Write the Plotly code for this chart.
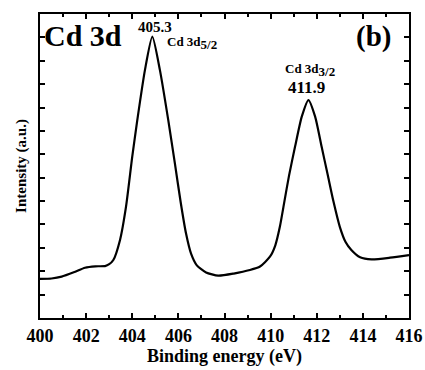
import plotly.graph_objects as go

# Binding energy (eV) and intensity (a.u.)
energy = [400.0, 400.5, 400.94, 401.5, 401.95, 402.4, 402.82, 403.0, 403.18, 403.47, 403.73,
          404.0, 404.22, 404.55, 404.87, 405.2, 405.56, 405.85, 406.1, 406.33, 406.55, 406.8,
          407.2, 407.73, 408.4, 409.1, 409.54, 409.97, 410.2, 410.4, 410.6, 410.8, 411.06, 411.35,
          411.64, 411.93, 412.21, 412.48, 412.72, 413.0, 413.25, 413.5, 413.88, 414.38, 415.18, 416.0]
intensity = [1.67, 1.69, 1.77, 1.97, 2.15, 2.21, 2.22, 2.3, 2.48, 3.34, 4.76,
             6.9, 8.47, 10.6, 12.03, 10.6, 8.47, 6.6, 4.95, 3.62, 2.75, 2.25,
             1.95, 1.81, 1.9, 2.05, 2.2, 2.62, 3.1, 3.9, 5.0, 6.1, 7.33, 8.61,
             9.32, 8.61, 7.33, 6.1, 5.0, 3.9, 3.25, 2.91, 2.6, 2.51, 2.58, 2.69]

x_ticks = [400, 402, 404, 406, 408, 410, 412, 414, 416]

FONT = "Liberation Serif, Times New Roman, serif"

fig = go.Figure()
fig.add_trace(go.Scatter(x=energy, y=intensity, mode="lines",
                         line=dict(color="black", width=2.2, shape="spline", smoothing=0.6),
                         showlegend=False, hoverinfo="skip"))

axis_common = dict(showline=True, linecolor="black", linewidth=2, mirror="allticks",
                   ticks="inside", tickcolor="black", tickwidth=1.5, ticklen=5,
                   showgrid=False, zeroline=False, automargin=False)

fig.update_xaxes(range=[400, 416], tickvals=x_ticks, ticktext=[str(t) for t in x_ticks],
                 minor=dict(dtick=1, ticks="inside", ticklen=3, tickcolor="black", tickwidth=1.5),
                 tickfont=dict(family=FONT, size=18, color="black", weight="bold"),
                 title=dict(text="<b>Binding energy (eV)</b>", font=dict(family=FONT, size=18, color="black"),
                            standoff=1),
                 **axis_common)
fig.update_yaxes(range=[0, 13], dtick=1, showticklabels=False,
                 title=dict(text="<b>Intensity (a.u.)</b>", font=dict(family=FONT, size=15, color="black"),
                            standoff=8),
                 **axis_common)

anns = [
    dict(x=0.005, y=0.93, xref="paper", yref="paper", text="<b>Cd 3d</b>", xanchor="left", yanchor="middle",
         font=dict(family=FONT, size=30, color="black")),
    dict(x=0.905, y=0.925, xref="paper", yref="paper", text="<b>(b)</b>", xanchor="center", yanchor="middle",
         font=dict(family=FONT, size=29, color="black")),
    dict(x=404.99, y=12.45, text="<b>405.3</b>", xanchor="center", yanchor="middle",
         font=dict(family=FONT, size=15, color="black")),
    dict(x=405.42, y=11.75, text="<b>Cd 3d<sub><span style='font-size:13px'>5/2</span></sub></b>",
         xanchor="left", yanchor="middle",
         font=dict(family=FONT, size=13, color="black")),
    dict(x=411.71, y=10.6, text="<b>Cd 3d<sub><span style='font-size:13px'>3/2</span></sub></b>",
         xanchor="center", yanchor="middle",
         font=dict(family=FONT, size=13, color="black")),
    dict(x=411.54, y=9.85, text="<b>411.9</b>", xanchor="center", yanchor="middle",
         font=dict(family=FONT, size=17, color="black")),
]
for a in anns:
    a.setdefault("xref", "x")
    a.setdefault("yref", "y")
    a["showarrow"] = False
    fig.add_annotation(**a)

fig.update_layout(width=425, height=370, margin=dict(l=40, r=16, t=14, b=52),
                  plot_bgcolor="white", paper_bgcolor="white",
                  font=dict(family=FONT, color="black"))

fig.write_html("out.html")
